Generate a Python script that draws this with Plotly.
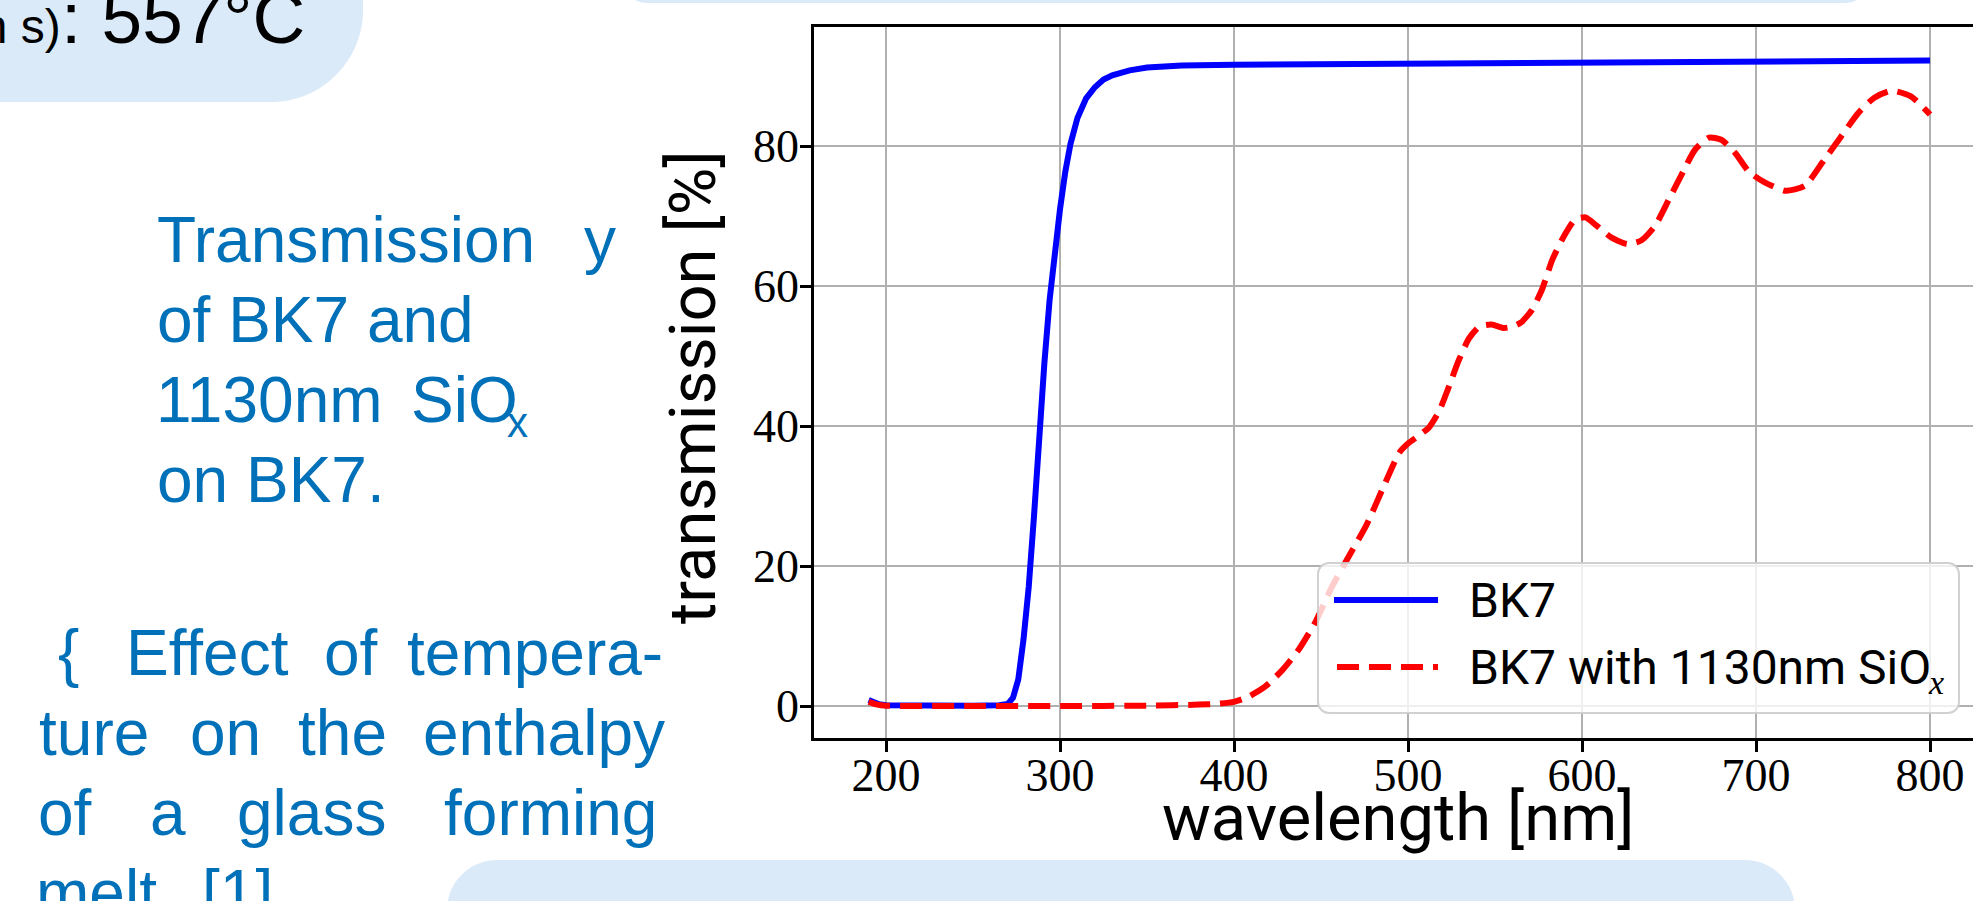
import plotly.graph_objects as go

W, H = 1973, 901

# ---------------- data ----------------
wl_bk7 = [190, 193, 196, 200, 210, 230, 250, 265, 270, 273, 276, 279, 282, 285, 288,
          291, 294, 297, 300, 303, 306, 310, 315, 320, 325, 330, 340, 350, 370, 400,
          450, 500, 600, 700, 800]
t_bk7 = [0.85, 0.5, 0.25, 0.1, 0.05, 0.05, 0.05, 0.1, 0.3, 1.2, 3.8, 9.5, 17.0, 27.0, 38.5,
         49.0, 58.0, 65.0, 71.0, 76.3, 80.3, 84.0, 86.8, 88.4, 89.5, 90.1, 90.8, 91.2, 91.5, 91.6,
         91.7, 91.8, 92.0, 92.1, 92.2]

wl_sio = [190, 195, 200, 250, 300, 350, 380, 390, 400, 408, 418, 428, 437, 447, 456, 466,
          476, 485, 495, 500, 506, 512, 518, 523, 529, 535, 541, 548, 555, 560, 565, 571,
          577, 583, 590, 596, 602, 608, 617, 626, 634, 642, 650, 658, 665, 673, 680, 688,
          696, 705, 717, 728, 738, 749, 759, 768, 778, 789, 800]
t_sio = [0.6, 0.2, 0.05, 0.0, 0.0, 0.05, 0.2, 0.3, 0.6, 1.3, 2.8, 5.2, 8.0, 12.1, 16.9, 21.4,
         25.8, 30.8, 36.2, 37.5, 38.6, 39.8, 42.2, 45.3, 49.3, 52.5, 54.2, 54.5, 54.0, 54.2, 54.8, 56.5,
         59.5, 63.8, 67.3, 69.5, 69.8, 68.7, 66.9, 66.0, 66.5, 68.6, 72.4, 76.3, 79.5, 81.2, 80.9, 79.0,
         76.3, 74.8, 73.6, 74.3, 77.6, 81.4, 84.8, 86.9, 87.9, 87.1, 84.5]

x_ticks = [200, 300, 400, 500, 600, 700, 800]
y_ticks = [0, 20, 40, 60, 80]
series_names = ["BK7", "BK7 with 1130nm SiO"]
x_title = "wavelength [nm]"
y_title = "transmission [%]"

BLUE_TXT = "#0070B8"
BOX = "#DBEAF8"


def px(x):
    return x / W


def py(y):
    return 1 - y / H


def rrect(x0, y0, x1, y1, r):
    k = 0.5523 * r
    pts = [("M", [(x0 + r, y0)]),
           ("L", [(x1 - r, y0)]),
           ("C", [(x1 - r + k, y0), (x1, y0 + r - k), (x1, y0 + r)]),
           ("L", [(x1, y1 - r)]),
           ("C", [(x1, y1 - r + k), (x1 - r + k, y1), (x1 - r, y1)]),
           ("L", [(x0 + r, y1)]),
           ("C", [(x0 + r - k, y1), (x0, y1 - r + k), (x0, y1 - r)]),
           ("L", [(x0, y0 + r)]),
           ("C", [(x0, y0 + r - k), (x0 + r - k, y0), (x0 + r, y0)])]
    s = ""
    for cmd, plist in pts:
        s += cmd + " " + " ".join(f"{px(a):.5f},{py(b):.5f}" for a, b in plist) + " "
    return s + "Z"


fig = go.Figure()
fig.add_trace(go.Scatter(x=wl_bk7, y=t_bk7, mode="lines", name=series_names[0],
                         line=dict(color="#0000FF", width=6), showlegend=False))
fig.add_trace(go.Scatter(x=wl_sio, y=t_sio, mode="lines", name=series_names[1],
                         line=dict(color="#FF0000", width=6, dash="22px,10px",
                                   shape="spline", smoothing=0.6), showlegend=False))

X0, X1, Y0, Y1 = 814, W, 27, 738
x_per_px = 1 / 1.74
xr = [158.6, 158.6 + (X1 - X0) * x_per_px]
yr = [-4.57, 97.0]

tickfont = dict(family="Liberation Serif, Times New Roman, serif", size=46, color="black")
fig.update_xaxes(range=xr, domain=[px(X0), 1.0], showline=True, linecolor="black", linewidth=2.5,
                 mirror=True, ticks="outside", ticklen=11, tickwidth=2.5, tickcolor="black",
                 tickvals=x_ticks, ticktext=[str(v) for v in x_ticks], tickfont=tickfont,
                 showgrid=True, gridcolor="#b0b0b0", gridwidth=2.2, zeroline=False,
                 ticklabelstandoff=-16)
fig.update_yaxes(range=yr, domain=[py(Y1), py(Y0)], showline=True, linecolor="black", linewidth=2.5,
                 mirror=False, ticks="outside", ticklen=11, tickwidth=2.5, tickcolor="black",
                 tickvals=y_ticks, ticktext=[str(v) for v in y_ticks], tickfont=tickfont,
                 showgrid=True, gridcolor="#b0b0b0", gridwidth=2.2, zeroline=False,
                 ticklabelstandoff=-8)

shapes = []
# decorative poster boxes
shapes.append(dict(type="path", xref="paper", yref="paper", layer="below",
                   path=rrect(-150, -150, 363, 102, 92), fillcolor=BOX, line=dict(width=0)))
shapes.append(dict(type="path", xref="paper", yref="paper", layer="below",
                   path=rrect(622, -80, 1870, 3, 25), fillcolor=BOX, line=dict(width=0)))
shapes.append(dict(type="path", xref="paper", yref="paper", layer="below",
                   path=rrect(447, 860, 1795, 1000, 50), fillcolor=BOX, line=dict(width=0)))
# legend frame
shapes.append(dict(type="path", xref="paper", yref="paper", layer="above",
                   path=rrect(1318, 563, 1959, 713, 11), fillcolor="rgba(255,255,255,0.8)",
                   line=dict(color="rgba(204,204,204,0.9)", width=2)))
shapes.append(dict(type="line", xref="paper", yref="paper", layer="above",
                   x0=px(1334), x1=px(1438), y0=py(600), y1=py(600),
                   line=dict(color="#0000FF", width=6)))
shapes.append(dict(type="line", xref="paper", yref="paper", layer="above",
                   x0=px(1337), x1=px(1438), y0=py(667), y1=py(667),
                   line=dict(color="#FF0000", width=6, dash="22px,10px")))

ann = []


def txt(s, x, baseline, size, family, color, k, xanchor="left", angle=0):
    ann.append(dict(text=s, x=px(x), y=py(baseline - k * size), xref="paper", yref="paper",
                    xanchor=xanchor, yanchor="middle", showarrow=False, textangle=angle,
                    font=dict(family=family, size=size, color=color)))


SANS = "Liberation Sans, Arial, sans-serif"
KS = 0.3465
ROB = "Roboto, sans-serif"
KR = 0.342

# top-left box text
txt("(in s)", 63, 43, 48, SANS, "black", KS, xanchor="right")
txt(": 557°C", 307, 43, 73, SANS, "black", KS, xanchor="right")

# upper blue block
txt("Transmission", 155, 262, 64, SANS, BLUE_TXT, KS)
txt("y", 582, 262, 64, SANS, BLUE_TXT, KS)
txt("of BK7 and", 155, 342, 64, SANS, BLUE_TXT, KS)
txt("1130nm", 154, 422, 64, SANS, BLUE_TXT, KS)
txt("SiO", 409, 422, 64, SANS, BLUE_TXT, KS)
txt("x", 505, 437, 42, SANS, BLUE_TXT, KS)
txt("on BK7.", 155, 502, 64, SANS, BLUE_TXT, KS)

# lower blue justified block
words = [("{", 56, 675), ("Effect", 124, 675), ("of", 322, 675), ("tempera-", 405, 675),
         ("ture", 37, 755), ("on", 188, 755), ("the", 296, 755), ("enthalpy", 421, 755),
         ("of", 36, 835), ("a", 148, 835), ("glass", 235, 835), ("forming", 442, 835),
         ("melt", 34, 915), ("[1]", 200, 915)]
for w_, x_, b_ in words:
    txt(w_, x_, b_, 64, SANS, BLUE_TXT, KS)

# axis titles
txt(x_title, (X0 + 1983) / 2, 840, 65, ROB, "black", KR, xanchor="center")
ann.append(dict(text=y_title, x=px(693), y=py(387), xref="paper", yref="paper",
                xanchor="center", yanchor="middle", showarrow=False, textangle=-90,
                font=dict(family=ROB, size=65, color="black")))

# legend labels
txt(series_names[0], 1467, 617, 48, ROB, "black", KR)
txt(series_names[1], 1467, 684, 48, ROB, "black", KR)
txt("<i>x</i>", 1926, 694, 34, "Liberation Serif, serif", "black", 0.3375)

fig.update_layout(width=W, height=H, autosize=False, margin=dict(l=0, r=0, t=0, b=0, pad=0),
                  paper_bgcolor="white", plot_bgcolor="white", shapes=shapes, annotations=ann,
                  showlegend=False)

fig.write_html("out.html", config={"displayModeBar": False},
               post_script="document.body.style.margin='0';document.body.style.overflow='hidden';")
